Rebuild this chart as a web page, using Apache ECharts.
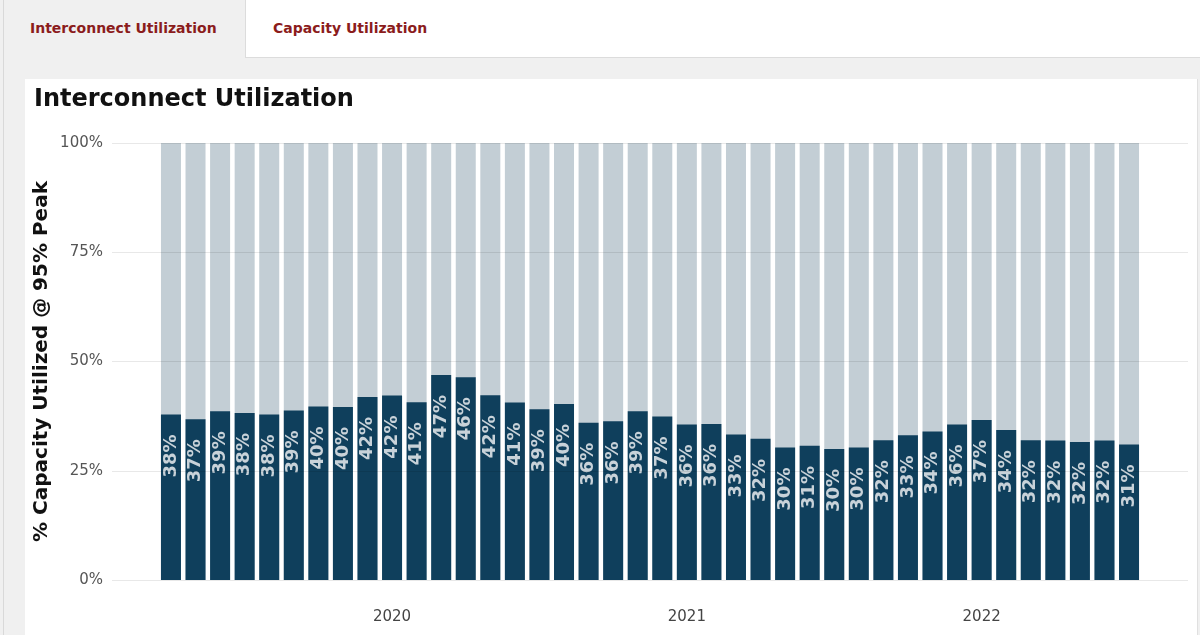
<!DOCTYPE html>
<html>
<head>
<meta charset="utf-8">
<script src="https://cdn.jsdelivr.net/npm/echarts@6/dist/echarts.min.js"></script>
<style>
  body { margin: 0; background: #f0f0f0; font-family: "DejaVu Sans", sans-serif; }
  #page { position: relative; width: 1200px; height: 635px; overflow: hidden; }
  .edge { position: absolute; left: 3px; top: 0; width: 1px; height: 635px; background: #d9d9d9; }
  .tab { position: absolute; top: 0; height: 57px; font-weight: bold; font-size: 14px; color: #8b1c1c; line-height: 57px; }
  .tab.active { left: 4px; width: 241px; padding-left: 26px; box-sizing: border-box; }
  .tab.other { left: 245px; right: 0; background: #fff; border-left: 1px solid #dcdcdc; border-bottom: 1px solid #dcdcdc; padding-left: 27px; }
  .panel { position: absolute; left: 25px; top: 79px; width: 1172px; height: 556px; background: #fff; border-right: 1px solid #e0e0e0; }
  #chart { position: absolute; left: 0; top: 0; width: 1200px; height: 635px; }
</style>
</head>
<body>
<div id="page">
  <div class="edge"></div>
  <div class="tab active">Interconnect Utilization</div>
  <div class="tab other">Capacity Utilization</div>
  <div class="panel"></div>
  <div id="chart"></div>
</div>
<script>
// monthly values, Apr 2019 .. Jul 2022
const months = [
  '2019-04', '2019-05', '2019-06', '2019-07', '2019-08', '2019-09', '2019-10', '2019-11', '2019-12',
  '2020-01', '2020-02', '2020-03', '2020-04', '2020-05', '2020-06', '2020-07', '2020-08', '2020-09',
  '2020-10', '2020-11', '2020-12', '2021-01', '2021-02', '2021-03', '2021-04', '2021-05', '2021-06',
  '2021-07', '2021-08', '2021-09', '2021-10', '2021-11', '2021-12', '2022-01', '2022-02', '2022-03',
  '2022-04', '2022-05', '2022-06', '2022-07'
];
const utilized = [
  37.9, 36.8, 38.6, 38.2, 37.9, 38.8, 39.7, 39.6, 41.9, 42.2, 40.7, 46.9, 46.4, 42.3,
  40.6, 39.1, 40.3, 36.0, 36.3, 38.6, 37.4, 35.6, 35.7, 33.3, 32.3, 30.3, 30.7,
  30.0, 30.3, 32.0, 33.1, 34.0, 35.6, 36.6, 34.3, 32.0, 31.9, 31.6, 31.9, 31.0
];
const capacity = 100;
const yearTicks = [2020, 2021, 2022];

// x position = months since Jan 2019
const monthIndex = (m) => (Number(m.slice(0, 4)) - 2019) * 12 + Number(m.slice(5, 7)) - 1;
const tickValues = yearTicks.map((y) => (y - 2019) * 12);

const myEcharts = echarts.init(document.getElementById('chart'));

const option = {
  backgroundColor: 'transparent',
  animation: false,
  textStyle: { fontFamily: 'DejaVu Sans' },
  title: {
    text: 'Interconnect Utilization',
    left: 29,
    top: 83,
    textStyle: { fontSize: 24, fontWeight: 'bold', color: '#111' }
  },
  grid: { left: 112, right: 12, top: 143, bottom: 55 },
  xAxis: {
    type: 'value',
    min: 0.6,
    max: 44.4,
    axisLine: { show: false },
    axisTick: { show: false },
    splitLine: { show: false },
    axisLabel: {
      customValues: tickValues,
      formatter: (v) => String(2019 + Math.round(v / 12)),
      margin: 30,
      fontSize: 15,
      color: '#444'
    }
  },
  yAxis: {
    type: 'value',
    min: 0,
    max: 100,
    interval: 25,
    z: 3,
    name: '% Capacity Utilized @ 95% Peak',
    nameLocation: 'middle',
    nameGap: 60,
    nameMoveOverlap: false,
    nameTextStyle: { fontSize: 20, fontWeight: 'bold', color: '#111' },
    axisLine: { show: false },
    axisTick: { show: false },
    axisLabel: { formatter: '{value}%', fontSize: 15, color: '#555', margin: 9 },
    splitLine: { lineStyle: { color: 'rgba(0,0,0,0.09)', width: 1 } }
  },
  series: [
    {
      // full capacity bar drawn behind
      type: 'bar',
      barWidth: 20,
      barGap: '-100%',
      itemStyle: { color: '#c3ced5' },
      data: months.map((m) => [monthIndex(m), capacity])
    },
    {
      type: 'bar',
      barWidth: 20,
      barGap: '-100%',
      itemStyle: { color: '#0f3f5c' },
      label: {
        show: true,
        position: 'insideTop',
        distance: 20,
        rotate: 90,
        align: 'right',
        verticalAlign: 'middle',
        fontSize: 18,
        fontWeight: 'bold',
        color: '#c8d2d9',
        formatter: (p) => Math.round(p.value[1]) + '%'
      },
      data: months.map((m, i) => [monthIndex(m), utilized[i]])
    }
  ]
};

myEcharts.setOption(option);
</script>
</body>
</html>
